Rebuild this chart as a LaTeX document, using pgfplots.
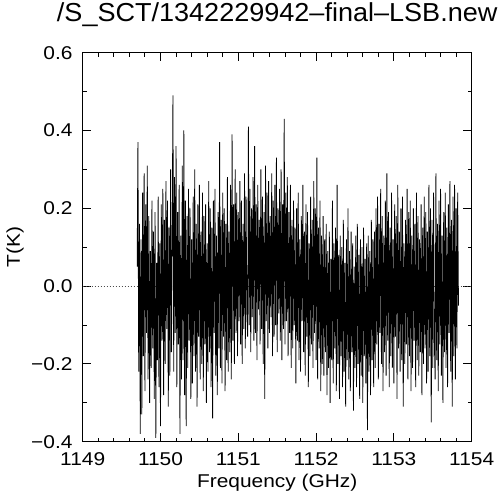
\documentclass[border=0pt]{standalone}
\usepackage{fontspec}
\setmainfont{Liberation Sans}[FakeStretch=1.13]
\newfontfamily\titlefont{Liberation Sans}[FakeStretch=1.04]
\usepackage{pgfplots}
\pgfplotsset{compat=1.18}
\usepackage{pgfplotstable}
\pgfplotstableread{
x y
1149.70 0.05
1149.71 0.37
1149.72 -0.22
1149.73 0.16
1149.74 -0.38
1149.75 0.12
1149.76 -0.33
1149.77 0.24
1149.78 -0.18
1149.79 0.29
1149.80 -0.27
1149.81 0.21
1149.82 -0.12
1149.83 0.31
1149.84 -0.24
1149.85 0.18
1149.86 -0.30
1149.87 0.09
1149.88 -0.21
1149.89 0.22
1149.90 -0.16
1149.91 0.14
1149.92 -0.29
1149.93 0.19
1149.94 -0.39
1149.95 0.06
1149.96 -0.19
1149.97 0.23
1149.98 -0.26
1149.99 0.11
1150.00 -0.36
1150.01 0.21
1150.02 -0.14
1150.03 0.25
1150.04 -0.28
1150.05 0.17
1150.06 -0.20
1150.07 0.27
1150.08 -0.11
1150.09 0.22
1150.10 -0.31
1150.11 0.15
1150.12 -0.23
1150.13 0.30
1150.14 -0.17
1150.15 0.10
1150.16 0.49
1150.17 -0.22
1150.18 0.28
1150.19 -0.12
1150.20 0.36
1150.21 -0.26
1150.22 0.19
1150.23 -0.15
1150.24 0.26
1150.25 -0.38
1150.26 0.13
1150.27 -0.24
1150.28 0.31
1150.29 -0.19
1150.30 0.40
1150.31 -0.28
1150.32 0.22
1150.33 -0.36
1150.34 0.18
1150.35 -0.21
1150.36 0.25
1150.37 -0.14
1150.38 0.20
1150.39 -0.29
1150.40 0.12
1150.41 -0.25
1150.42 0.23
1150.43 -0.18
1150.44 0.30
1150.45 -0.22
1150.46 0.16
1150.47 -0.31
1150.48 0.21
1150.49 -0.13
1150.50 0.26
1150.51 -0.24
1150.52 0.14
1150.53 -0.20
1150.54 0.24
1150.55 -0.27
1150.56 0.18
1150.57 -0.15
1150.58 0.21
1150.59 -0.30
1150.60 0.11
1150.61 -0.22
1150.62 0.27
1150.63 -0.17
1150.64 0.20
1150.65 -0.26
1150.66 0.15
1150.67 -0.34
1150.68 0.22
1150.69 -0.12
1150.70 0.25
1150.71 -0.23
1150.72 0.13
1150.73 -0.28
1150.74 0.19
1150.75 -0.16
1150.76 0.37
1150.77 -0.21
1150.78 0.17
1150.79 -0.25
1150.80 0.24
1150.81 -0.13
1150.82 0.20
1150.83 -0.27
1150.84 0.16
1150.85 -0.19
1150.86 0.28
1150.87 -0.22
1150.88 0.14
1150.89 -0.17
1150.90 0.26
1150.91 -0.24
1150.92 0.39
1150.93 -0.14
1150.94 0.21
1150.95 -0.20
1150.96 0.30
1150.97 -0.12
1150.98 0.24
1150.99 -0.18
1151.00 0.19
1151.01 -0.09
1151.02 0.27
1151.03 -0.15
1151.04 0.22
1151.05 -0.20
1151.06 0.16
1151.07 -0.11
1151.08 0.29
1151.09 -0.16
1151.10 0.23
1151.11 -0.07
1151.12 -0.13
1151.13 0.41
1151.14 -0.10
1151.15 0.25
1151.16 -0.17
1151.17 0.20
1151.18 -0.08
1151.19 0.28
1151.20 -0.14
1151.21 0.36
1151.22 -0.12
1151.23 0.21
1151.24 -0.19
1151.25 0.26
1151.26 -0.06
1151.27 0.17
1151.28 -0.15
1151.29 0.30
1151.30 -0.11
1151.31 0.23
1151.32 -0.20
1151.33 0.19
1151.34 -0.29
1151.35 0.31
1151.36 -0.09
1151.37 0.24
1151.38 -0.16
1151.39 0.27
1151.40 -0.12
1151.41 0.18
1151.42 -0.08
1151.43 0.29
1151.44 -0.18
1151.45 0.22
1151.46 -0.13
1151.47 0.26
1151.48 -0.10
1151.49 0.33
1151.50 -0.17
1151.51 0.20
1151.52 -0.07
1151.53 0.25
1151.54 -0.14
1151.55 0.30
1151.56 -0.19
1151.57 0.21
1151.58 -0.11
1151.59 0.43
1151.60 -0.15
1151.61 0.24
1151.62 -0.09
1151.63 0.28
1151.64 -0.18
1151.65 0.19
1151.66 -0.12
1151.67 0.26
1151.68 -0.21
1151.69 0.17
1151.70 -0.16
1151.71 0.22
1151.72 -0.10
1151.73 0.15
1151.74 -0.25
1151.75 0.20
1151.76 -0.14
1151.77 0.24
1151.78 -0.19
1151.79 0.12
1151.80 -0.22
1151.81 0.18
1151.82 -0.09
1151.83 0.26
1151.84 -0.17
1151.85 0.14
1151.86 -0.23
1151.87 0.21
1151.88 -0.13
1151.89 0.19
1151.90 -0.26
1151.91 0.11
1151.92 -0.18
1151.93 0.23
1151.94 -0.15
1151.95 0.17
1151.96 -0.21
1151.97 0.27
1151.98 -0.12
1151.99 0.20
1152.00 -0.19
1152.01 0.33
1152.02 -0.24
1152.03 0.15
1152.04 -0.16
1152.05 0.22
1152.06 -0.27
1152.07 0.13
1152.08 -0.20
1152.09 0.18
1152.10 -0.23
1152.11 0.12
1152.12 -0.17
1152.13 0.16
1152.14 -0.28
1152.15 0.09
1152.16 -0.21
1152.17 0.14
1152.18 -0.30
1152.19 0.07
1152.20 -0.19
1152.21 0.22
1152.22 -0.25
1152.23 0.11
1152.24 -0.16
1152.25 0.15
1152.26 -0.27
1152.27 0.26
1152.28 -0.20
1152.29 0.08
1152.30 -0.29
1152.31 0.13
1152.32 -0.18
1152.33 0.10
1152.34 -0.26
1152.35 0.17
1152.36 -0.22
1152.37 0.06
1152.38 -0.31
1152.39 0.12
1152.40 -0.19
1152.41 0.20
1152.42 -0.24
1152.43 0.09
1152.44 -0.27
1152.45 0.14
1152.46 -0.17
1152.47 0.11
1152.48 -0.32
1152.49 0.05
1152.50 -0.21
1152.51 0.13
1152.52 -0.26
1152.53 0.16
1152.54 -0.20
1152.55 0.08
1152.56 -0.29
1152.57 0.12
1152.58 -0.23
1152.59 0.10
1152.60 -0.30
1152.61 0.15
1152.62 -0.18
1152.63 0.07
1152.64 -0.25
1152.65 0.11
1152.66 -0.37
1152.67 0.13
1152.68 -0.22
1152.69 0.09
1152.70 -0.28
1152.71 0.17
1152.72 -0.19
1152.73 0.12
1152.74 -0.26
1152.75 0.14
1152.76 -0.21
1152.77 0.20
1152.78 -0.15
1152.79 0.23
1152.80 -0.24
1152.81 0.16
1152.82 -0.12
1152.83 0.25
1152.84 -0.20
1152.85 0.18
1152.86 -0.27
1152.87 0.13
1152.88 -0.17
1152.89 0.22
1152.90 -0.23
1152.91 0.29
1152.92 -0.14
1152.93 0.19
1152.94 -0.26
1152.95 0.15
1152.96 -0.18
1152.97 0.24
1152.98 -0.21
1152.99 0.12
1153.00 -0.25
1153.01 0.21
1153.02 -0.13
1153.03 0.18
1153.04 -0.29
1153.05 0.26
1153.06 -0.16
1153.07 0.14
1153.08 -0.22
1153.09 0.20
1153.10 -0.19
1153.11 0.23
1153.12 -0.31
1153.13 0.11
1153.14 -0.20
1153.15 0.17
1153.16 -0.15
1153.17 0.25
1153.18 -0.24
1153.19 0.19
1153.20 -0.18
1153.21 0.22
1153.22 -0.27
1153.23 0.13
1153.24 -0.21
1153.25 0.20
1153.26 -0.14
1153.27 0.16
1153.28 -0.26
1153.29 0.24
1153.30 -0.19
1153.31 0.18
1153.32 -0.23
1153.33 0.12
1153.34 -0.17
1153.35 0.21
1153.36 -0.28
1153.37 0.15
1153.38 -0.20
1153.39 0.23
1153.40 -0.16
1153.41 0.19
1153.42 -0.25
1153.43 0.14
1153.44 -0.22
1153.45 0.26
1153.46 -0.18
1153.47 0.20
1153.48 -0.35
1153.49 0.17
1153.50 -0.21
1153.51 0.24
1153.52 -0.14
1153.53 -0.24
1153.54 0.29
1153.55 -0.19
1153.56 0.16
1153.57 -0.27
1153.58 0.22
1153.59 -0.15
1153.60 0.25
1153.61 -0.23
1153.62 0.13
1153.63 -0.30
1153.64 0.19
1153.65 -0.17
1153.66 0.24
1153.67 -0.21
1153.68 0.15
1153.69 -0.26
1153.70 0.21
1153.71 -0.12
1153.72 0.27
1153.73 -0.22
1153.74 0.17
1153.75 -0.31
1153.76 0.23
1153.77 -0.18
1153.78 0.26
1153.79 -0.24
1153.80 0.20
1153.81 -0.16
1153.82 0.24
1153.83 -0.05
}\spectrum
\begin{document}
\begin{tikzpicture}
\useasboundingbox (-82.7bp,-56bp) rectangle (417.3bp,441.7bp);
\begin{axis}[
  at={(0,0)}, anchor=south west,
  scale only axis, width=389bp, height=389bp,
  xmin=1149, xmax=1154, ymin=-0.4, ymax=0.6,
  xtick={1149,1150,1151,1152,1153,1154},
  xticklabels={1149,1150,1151,1152,1153,1154},
  ytick={-0.4,-0.2,0,0.2,0.4,0.6},
  yticklabels={−0.4,−0.2,0.0,0.2,0.4,0.6},
  minor x tick num=4, minor y tick num=1,
  tick align=inside, tick pos=both,
  major tick length=8.5bp, minor tick length=4bp,
  axis line style={line width=1bp, black},
  every tick/.style={line width=0.9bp, black},
  tick label style={font=\fontsize{18.5bp}{20bp}\selectfont},
  xticklabel style={anchor=base, yshift=-24bp},
  yticklabel style={anchor=east, inner sep=0pt, xshift=-10bp},
  title={\titlefont /S\_SCT/1342229942–final–LSB.new},
  title style={at={(axis description cs:0.5,1.066)}, anchor=base, inner sep=0pt,
    font=\fontsize{26bp}{27bp}\selectfont},
  xlabel={Frequency (GHz)},
  xlabel style={at={(axis description cs:0.5,-0.119)}, anchor=base, inner sep=0pt,
    font=\fontsize{18.5bp}{20bp}\selectfont},
  ylabel={T(K)},
  ylabel style={at={(axis description cs:-0.1612,0.5)}, rotate=0, anchor=base, inner sep=0pt,
    font=\fontsize{18.5bp}{20bp}\selectfont},
]
\addplot[black!70, line width=0.6bp, dash pattern=on 1bp off 2bp] coordinates {(1149,0) (1154,0)};
\addplot[black, line width=0.8bp] table[x=x, y=y] {\spectrum};
\end{axis}
\end{tikzpicture}
\end{document}
